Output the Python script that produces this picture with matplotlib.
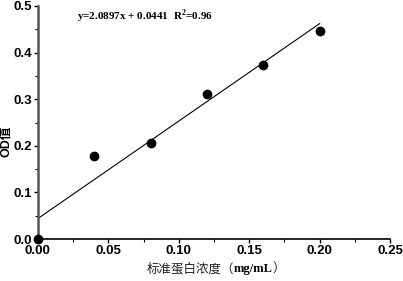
import numpy as np
import matplotlib.pyplot as plt
from matplotlib.ticker import MultipleLocator
from matplotlib.offsetbox import TextArea, HPacker, AnchoredOffsetbox

plt.rcParams['mathtext.fontset'] = 'custom'
plt.rcParams['mathtext.rm'] = 'Liberation Serif'
plt.rcParams['mathtext.bf'] = 'Liberation Serif:bold'

# Standard curve data
conc = [0.00, 0.04, 0.08, 0.12, 0.16, 0.20]
od = [0.000, 0.178, 0.207, 0.312, 0.374, 0.447]
slope = 2.0897
intercept = 0.0441
fit_x = [0.0, 0.20]

x_ticks = [0.00, 0.05, 0.10, 0.15, 0.20, 0.25]
y_ticks = [0.0, 0.1, 0.2, 0.3, 0.4, 0.5]

fig = plt.figure(figsize=(4.03, 2.81), dpi=100)
ax = fig.add_axes([0.094, 0.149, 0.874, 0.830])

ax.plot(fit_x, [slope * v + intercept for v in fit_x], color='black', lw=0.8)
ax.plot(conc, od, 'o', color='black', ms=6, clip_on=False, zorder=3)

ax.set_xlim(0, 0.25)
ax.set_ylim(0, 0.5)
ax.set_xticks(x_ticks)
ax.set_yticks(y_ticks)
ax.set_xticklabels(['%.2f' % v for v in x_ticks])
ax.set_yticklabels(['%.1f' % v for v in y_ticks])
ax.xaxis.set_minor_locator(MultipleLocator(0.025))
ax.yaxis.set_minor_locator(MultipleLocator(0.05))

for s in ['top', 'right']:
    ax.spines[s].set_visible(False)
ax.spines['left'].set_linewidth(1.8)
ax.spines['left'].set_color('#555555')
ax.spines['bottom'].set_linewidth(1.2)

ax.tick_params(which='major', direction='out', length=3, width=1, pad=1.5)
ax.tick_params(which='minor', direction='out', length=2, width=0.8)
for lab in ax.get_xticklabels() + ax.get_yticklabels():
    lab.set_fontfamily('Liberation Sans')
    lab.set_fontweight('bold')
    lab.set_fontsize(9.5)

# x label: Chinese text regular, unit in bold serif
cjk = ['Liberation Serif', 'Noto Sans CJK SC']
parts = [
    TextArea('标准蛋白浓度（', textprops=dict(family=cjk, fontsize=9, color='#222222')),
    TextArea('mg/mL', textprops=dict(family='Liberation Serif', fontweight='bold', fontsize=9)),
    TextArea('）', textprops=dict(family=cjk, fontsize=9, color='#222222')),
]
box = HPacker(children=parts, pad=0, sep=0, align='baseline')
anchored = AnchoredOffsetbox(loc='center', child=box, frameon=False, pad=0, borderpad=0,
                             bbox_to_anchor=(0.505, -0.128), bbox_transform=ax.transAxes)
ax.add_artist(anchored)

ax.set_ylabel('OD值', family=['Liberation Sans', 'Noto Sans CJK SC'],
              fontsize=9, fontweight='bold')
ax.yaxis.set_label_coords(-0.072, 0.42)

ax.text(0.028, 0.478, 'y=2.0897x + 0.0441  R$^\\mathbf{2}$=0.96', family='Liberation Serif',
        fontweight='bold', fontsize=8, va='center')

fig.savefig('out.png', dpi=100)
